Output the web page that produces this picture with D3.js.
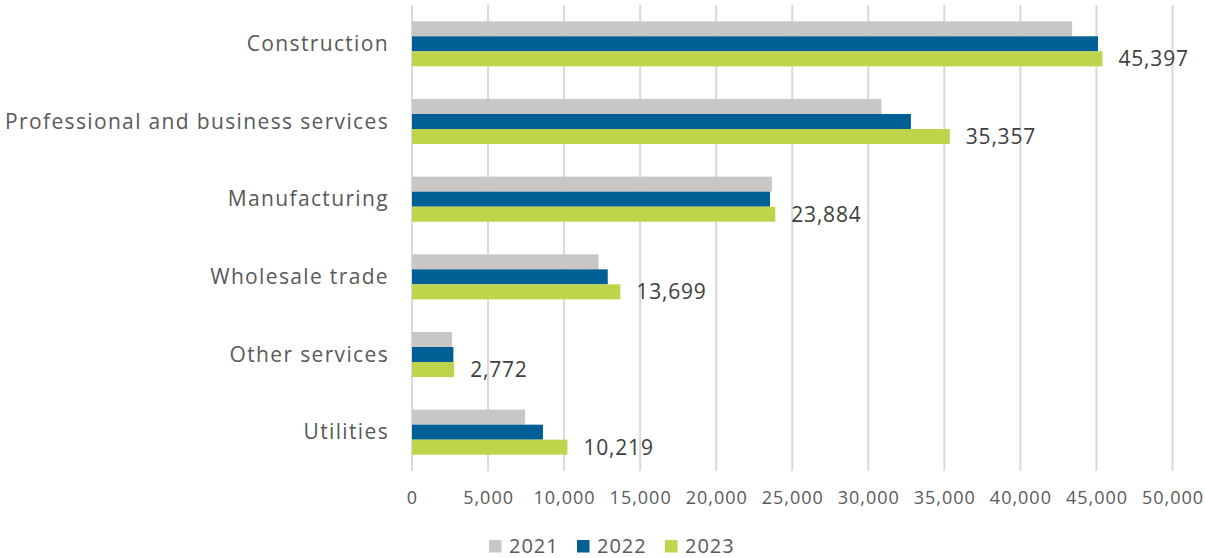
<!DOCTYPE html>
<html><head><meta charset="utf-8">
<script src="https://cdn.jsdelivr.net/npm/d3@7"></script>
<style>
html,body{margin:0;padding:0;background:#fff;}
svg{display:block;}
text{font-family:"Open Sans",sans-serif;}
</style></head>
<body>
<svg id="chart" width="1205" height="558"></svg>
<script>
const categories = ["Construction","Professional and business services","Manufacturing","Wholesale trade","Other services","Utilities"];
const seriesNames = ["2021","2022","2023"];
const values2021 = [43400, 30860, 23670, 12270, 2630, 7430];
const values2022 = [45100, 32800, 23540, 12870, 2720, 8610];
const values2023 = [45397, 35357, 23884, 13699, 2772, 10219];
const labels2023 = ["45,397","35,357","23,884","13,699","2,772","10,219"];
const tickValues = [0,5000,10000,15000,20000,25000,30000,35000,40000,45000,50000];
const colors = ["#c8c7c5","#005f94","#bed44a"];

const series = [values2021, values2022, values2023];
const svg = d3.select("#chart");

const x = d3.scaleLinear().domain([0,50000]).range([412,1172.5]);
const y = d3.scaleBand().domain(categories).range([5,471]).paddingInner(0.42).paddingOuter(0.21);
const ySub = d3.scaleBand().domain(seriesNames).range([0,y.bandwidth()]);

// gridlines
svg.append("g").selectAll("line").data(tickValues).join("line")
  .attr("x1",d=>x(d)).attr("x2",d=>x(d))
  .attr("y1",5).attr("y2",471)
  .attr("stroke","#d9d9d9").attr("stroke-width",2);

// bars
const groups = svg.append("g").selectAll("g").data(categories).join("g")
  .attr("transform",d=>`translate(0,${y(d)})`);
groups.selectAll("rect").data((c,i)=>seriesNames.map((s,j)=>({s,j,v:series[j][i]}))).join("rect")
  .attr("x",x(0)).attr("y",d=>ySub(d.s))
  .attr("width",d=>x(d.v)-x(0)).attr("height",ySub.bandwidth())
  .attr("fill",d=>colors[d.j]);

// data labels for 2023
svg.append("g").selectAll("text").data(categories).join("text")
  .attr("x",(d,i)=>x(values2023[i])+16)
  .attr("y",d=>y(d)+ySub("2023")+ySub.bandwidth()/2)
  .attr("dy","0.36em")
  .attr("font-size",21).attr("letter-spacing",0.8)
  .attr("fill","#404040")
  .text((d,i)=>labels2023[i]);

// category axis labels
svg.append("g").selectAll("text").data(categories).join("text")
  .attr("x",389).attr("y",d=>y(d)+y.bandwidth()/2 - 0.5)
  .attr("dy","0.36em").attr("text-anchor","end")
  .attr("font-size",21).attr("letter-spacing",1.35)
  .attr("fill","#595959")
  .text(d=>d);

// x axis
const xAxis = d3.axisBottom(x).tickValues(tickValues).tickSize(0).tickPadding(0)
  .tickFormat(d3.format(","));
const ax = svg.append("g").attr("transform","translate(0,491)").call(xAxis);
ax.select(".domain").remove();
ax.selectAll("text").attr("font-size",18).attr("letter-spacing",1)
  .attr("fill","#595959").attr("font-family","Open Sans, sans-serif");

// legend
const leg = svg.append("g").selectAll("g").data(seriesNames).join("g")
  .attr("transform",(d,i)=>`translate(${489+i*88},0)`);
leg.append("rect").attr("x",0).attr("y",540).attr("width",12.5).attr("height",12.5)
  .attr("fill",(d,i)=>colors[i]);
leg.append("text").attr("x",20).attr("y",545.5).attr("dy","0.36em")
  .attr("font-size",20).attr("letter-spacing",1).attr("fill","#595959").text(d=>d);
</script>
</body></html>
